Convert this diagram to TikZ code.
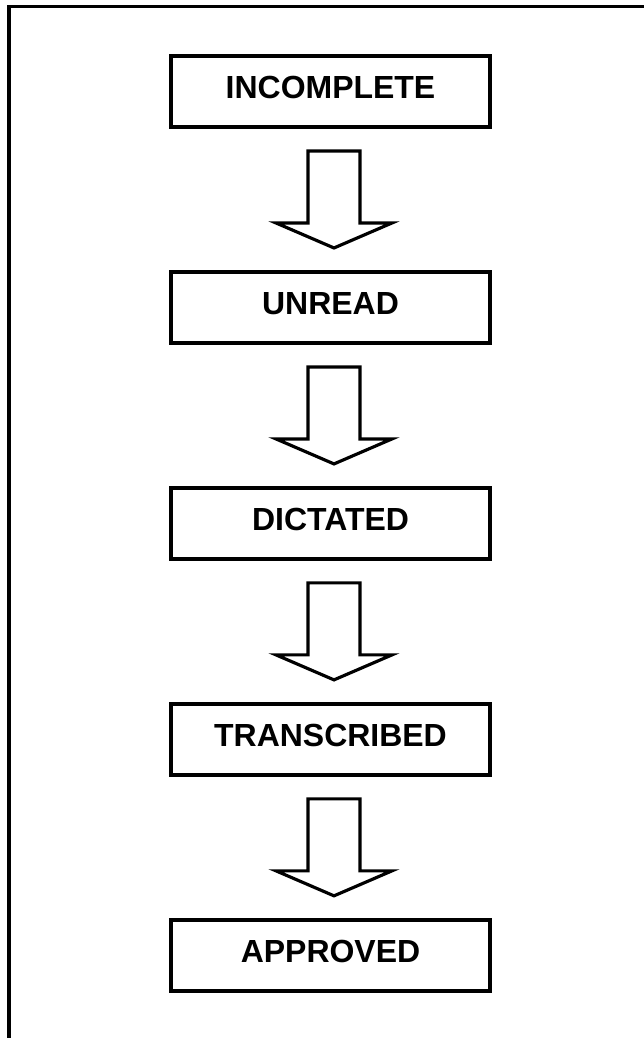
\documentclass[tikz,border=0pt]{standalone}
\usepackage{fontspec}
\setmainfont{Liberation Sans}
\usepackage{tikz}
\usepackage{xcolor}
\usetikzlibrary{positioning, calc}
\tikzset{statebox/.style={draw, line width=2pt, minimum width=6.38cm, minimum height=1.42cm,
  inner sep=0pt, outer sep=0pt, text depth=0.16cm, font=\fontsize{18.2}{20}\selectfont\bfseries},
  arrowline/.style={draw, line width=1.8pt, line join=miter},
  frameline/.style={draw, line width=1.8pt}}
% block arrow from the bottom of one box to the top of the next
\newcommand{\statearrow}[2]{%
\draw[arrowline] ($(#1.south)+(-22.5,24)$) -- ($(#1.south)+(29.5,24)$)
  -- ($(#2.north)+(29.5,-49)$) -- ($(#2.north)+(61.5,-49)$)
  -- ($(#2.north)+(3.5,-24)$) -- ($(#2.north)+(-54.5,-49)$)
  -- ($(#2.north)+(-22.5,-49)$) -- cycle;}
\begin{document}
\begin{tikzpicture}[x=0.02cm, y=-0.02cm]
\useasboundingbox (0,0) rectangle (644,1038);
\draw[frameline] (644,6.5) -- (9,6.5) -- (9,1038); %outer frame, open at right and bottom
\node[statebox] (incomplete) at (330.5,91.5) {INCOMPLETE};
\node[statebox, below=2.9cm of incomplete] (unread) {UNREAD};
\node[statebox, below=2.9cm of unread] (dictated) {DICTATED};
\node[statebox, below=2.9cm of dictated] (transcribed) {TRANSCRIBED};
\node[statebox, below=2.9cm of transcribed] (approved) {APPROVED};
\statearrow{incomplete}{unread}
\statearrow{unread}{dictated}
\statearrow{dictated}{transcribed}
\statearrow{transcribed}{approved}
\end{tikzpicture}
\end{document}
